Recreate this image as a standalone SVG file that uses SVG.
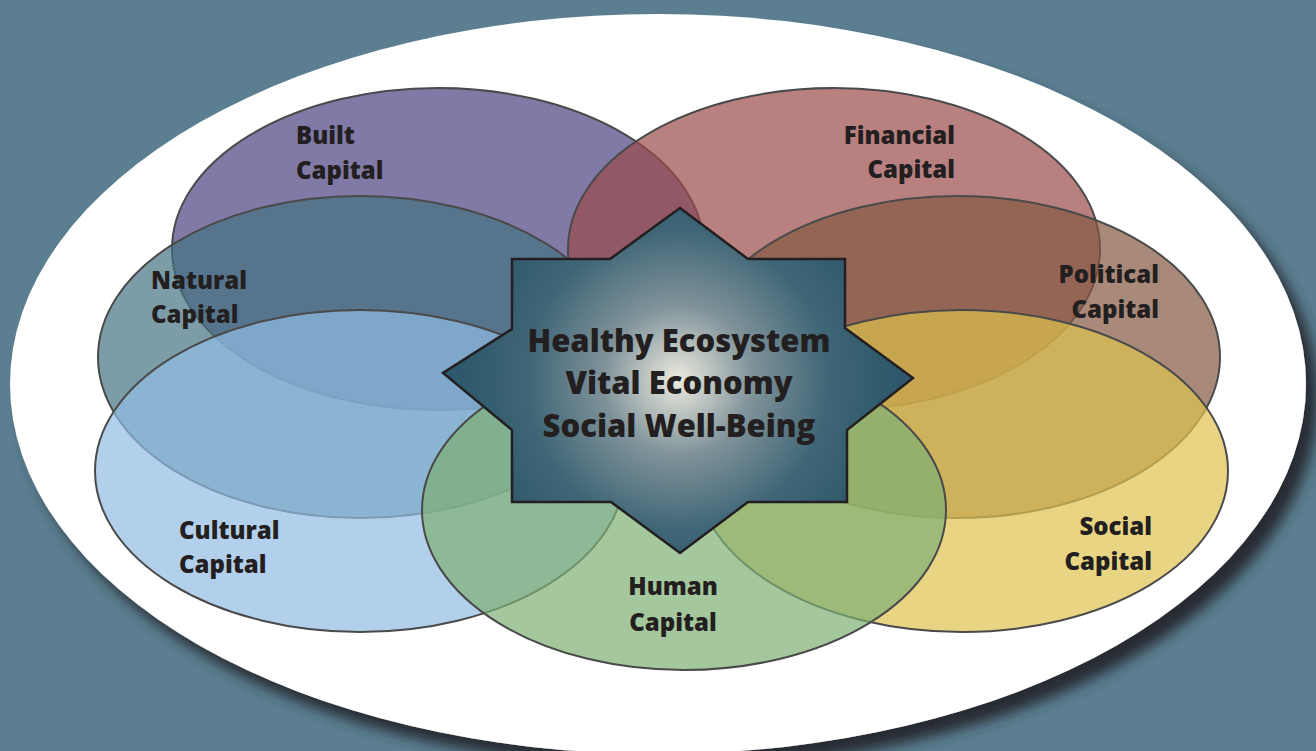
<svg xmlns="http://www.w3.org/2000/svg" width="1316" height="751" viewBox="0 0 1316 751">
<style>
.cap{stroke:#4a4a4a;stroke-width:2;fill-opacity:0.7}
.lbl{font-family:"Open Sans","Noto Sans","Liberation Sans",sans-serif;font-weight:800;font-size:24px;fill:#231f20}
.ctr{font-family:"Open Sans","Noto Sans","Liberation Sans",sans-serif;font-weight:800;font-size:31px;fill:#231f20;text-anchor:middle}
</style>
<defs>
<filter id="sh" x="-5%" y="-5%" width="115%" height="120%">
<feDropShadow dx="12" dy="14" stdDeviation="7" flood-color="#262b31" flood-opacity="1"/>
</filter>
<radialGradient id="sg" gradientUnits="userSpaceOnUse" cx="678" cy="380" r="215">
<stop offset="0" stop-color="#ecebde"/>
<stop offset="0.35" stop-color="#7f929a"/>
<stop offset="0.7" stop-color="#3f6676"/>
<stop offset="1" stop-color="#2e586b"/>
</radialGradient>
</defs>
<rect x="0" y="0" width="1316" height="751" fill="#5b7f91"/>
<ellipse id="frame" cx="658" cy="384" rx="648" ry="370" fill="#ffffff" filter="url(#sh)"/>
<g id="built"><ellipse class="cap" cx="438" cy="249" rx="266" ry="161" fill="#4b4080"/></g>
<g id="financial"><ellipse class="cap" cx="834" cy="249" rx="266" ry="161" fill="#9b4a4a"/></g>
<g id="natural"><ellipse class="cap" cx="360" cy="357" rx="262" ry="161" fill="#457483"/></g>
<g id="political"><ellipse class="cap" cx="957" cy="357" rx="263" ry="161" fill="#845941"/></g>
<g id="cultural"><ellipse class="cap" cx="360" cy="471" rx="265" ry="161" fill="#91bce4"/></g>
<g id="social"><ellipse class="cap" cx="962" cy="471" rx="266" ry="161" fill="#dec24f"/></g>
<g id="human"><ellipse class="cap" cx="684" cy="510" rx="262" ry="160" fill="#7eaf74"/></g>
<g id="labels">
<text class="lbl" x="296" y="144">Built</text>
<text class="lbl" x="296" y="179">Capital</text>
<text class="lbl" x="955" y="144" text-anchor="end">Financial</text>
<text class="lbl" x="955" y="178" text-anchor="end">Capital</text>
<text class="lbl" x="151" y="289">Natural</text>
<text class="lbl" x="151" y="323">Capital</text>
<text class="lbl" x="1159" y="283" text-anchor="end">Political</text>
<text class="lbl" x="1159" y="318" text-anchor="end">Capital</text>
<text class="lbl" x="179" y="539">Cultural</text>
<text class="lbl" x="179" y="573">Capital</text>
<text class="lbl" x="1152" y="535" text-anchor="end">Social</text>
<text class="lbl" x="1152" y="570" text-anchor="end">Capital</text>
<text class="lbl" x="673" y="595" text-anchor="middle">Human</text>
<text class="lbl" x="673" y="631" text-anchor="middle">Capital</text>
</g>
<g id="center">
<polygon points="680,208 748,259 845,259 845,328 913,378 847,430 847,502 748,502 680,553 611,502 512,502 512,430 443,373 512,329 512,259 610,259" fill="url(#sg)" stroke="#231f20" stroke-width="2.5" stroke-linejoin="miter"/>
<text class="ctr" x="679" y="352">Healthy Ecosystem</text>
<text class="ctr" x="679" y="394">Vital Economy</text>
<text class="ctr" x="679" y="437">Social Well-Being</text>
</g>
<g id="connectors"/>
</svg>
